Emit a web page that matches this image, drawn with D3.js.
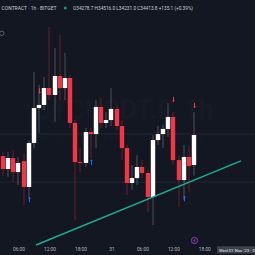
<!DOCTYPE html>
<html>
<head>
<meta charset="utf-8">
<script src="https://cdnjs.cloudflare.com/ajax/libs/d3/7.8.5/d3.min.js"></script>
<style>
  html, body { margin: 0; padding: 0; background: #131722; overflow: hidden; }
  svg { display: block; font-family: Roboto, "Noto Sans", sans-serif; }
</style>
</head>
<body>
<svg id="chart" width="255" height="255"></svg>
<script>
// hourly candles, first one at 30 Oct 2023 03:00
const firstCandle = new Date(2023, 9, 30, 3, 0);
const opens  = [34319, 34261, 34310, 34247, 34296, 34180, 34378, 34535, 34549, 34625, 34594, 34679, 34625, 34670, 34468, 34292, 34288, 34427, 34418, 34540, 34468, 34481, 34531, 34454, 34355, 34198, 34220, 34270, 34243, 34135, 34391, 34418, 34441, 34495, 34301, 34211, 34315, 34278.7];
const highs  = [34337, 34337, 34346, 34315, 34333, 34391, 34697, 34639, 34675, 34900, 34805, 34864, 34783, 34684, 34481, 34355, 34445, 34445, 34571, 34580, 34517, 34625, 34549, 34481, 34369, 34279, 34324, 34301, 34256, 34414, 34454, 34459, 34558, 34517, 34324, 34369, 34364, 34516.0];
const lows   = [34229, 34225, 34202, 34189, 34099, 34130, 34355, 34423, 34526, 34571, 34472, 34571, 34571, 34445, 34031, 34247, 34270, 34310, 34355, 34445, 34445, 34454, 34436, 34301, 34144, 34166, 34189, 34220, 34067, 34009, 34369, 34355, 34405, 34279, 34090, 34121, 34157, 34231.0];
const closes = [34261, 34310, 34247, 34288, 34180, 34378, 34535, 34549, 34625, 34594, 34679, 34625, 34670, 34468, 34292, 34288, 34427, 34418, 34540, 34468, 34481, 34531, 34454, 34355, 34198, 34220, 34270, 34243, 34135, 34391, 34418, 34441, 34495, 34301, 34211, 34315, 34274, 34413.8];

// signal arrows: candle index, price, kind
const markerIndex = [5, 17, 35, 7, 33, 37];
const markerPrice = [34123, 34292, 34128, 34612, 34574, 34547];
const markerKind  = ["buy", "buy", "buy", "sell", "sell", "sell"];

// horizontal levels and trend line
const levels = [34418, 34202];
const trendTimes  = [new Date(2023, 9, 30, 9, 24), new Date(2023, 10, 1, 1, 6)];
const trendPrices = [33919, 34297];

const tickTimes = [new Date(2023, 9, 30, 6), new Date(2023, 9, 30, 12), new Date(2023, 9, 30, 18),
                   new Date(2023, 9, 31, 0), new Date(2023, 9, 31, 6), new Date(2023, 9, 31, 12), new Date(2023, 9, 31, 18)];
const tickLabels = ["06:00", "12:00", "18:00", "31", "06:00", "12:00", "18:00"];

const candles = opens.map((o, i) => ({
  t: d3.timeHour.offset(firstCandle, i),
  o: o, h: highs[i], l: lows[i], c: closes[i]
}));

const svg = d3.select("#chart");
const width = +svg.attr("width");
const height = +svg.attr("height");

const x = d3.scaleTime()
  .domain([candles[0].t, candles[candles.length - 1].t])
  .range([3, 194]);
const y = d3.scaleLinear()
  .domain([34000, 34600])
  .range([227, 93.6]);

svg.append("rect").attr("width", width).attr("height", height).attr("fill", "#131722");

// watermark
svg.append("text")
  .attr("x", 124).attr("y", 119)
  .attr("text-anchor", "middle")
  .attr("font-size", 27).attr("font-weight", 700)
  .attr("fill", "#161a25")
  .text("BTCUSDT.P, 1h");
svg.append("text")
  .attr("x", 124).attr("y", 141)
  .attr("text-anchor", "middle")
  .attr("font-size", 10)
  .attr("fill", "#161a25")
  .text("Bitcoin / USDT PERPETUAL CONTRACT");

// level lines
svg.selectAll(".level")
  .data(levels)
  .enter()
  .append("rect")
  .attr("x", 0).attr("width", width)
  .attr("y", d => Math.round(y(d)) - 0.5).attr("height", 1)
  .attr("fill", "#232733");

// wicks
svg.selectAll(".wick")
  .data(candles)
  .enter()
  .append("rect")
  .attr("x", d => Math.round(x(d.t)) - 0.5)
  .attr("width", 1)
  .attr("y", d => y(d.h))
  .attr("height", d => y(d.l) - y(d.h))
  .attr("fill", d => d.c >= d.o ? "#4e525d" : "#6b1f2b");

// bodies
svg.selectAll(".body")
  .data(candles)
  .enter()
  .append("rect")
  .attr("x", d => Math.round(x(d.t)) - 2.2)
  .attr("width", 4.4)
  .attr("y", d => y(Math.max(d.o, d.c)))
  .attr("height", d => Math.max(1, Math.abs(y(d.o) - y(d.c))))
  .attr("fill", d => d.c >= d.o ? "#ffffff" : "#f23645");

// signal arrows
const markers = markerIndex.map((idx, i) => ({ t: candles[idx].t, p: markerPrice[i], kind: markerKind[i] }));
svg.selectAll(".marker")
  .data(markers)
  .enter()
  .append("path")
  .attr("transform", d => `translate(${Math.round(x(d.t)) + 0.5},${y(d.p)})`)
  .attr("d", d => d.kind === "buy"
    ? "M0,-2.8 L1.5,-1 L0.5,-1 L0.5,2.6 L-0.5,2.6 L-0.5,-1 L-1.5,-1 Z"
    : "M0,2.8 L1.5,1 L0.5,1 L0.5,-2.6 L-0.5,-2.6 L-0.5,1 L-1.5,1 Z")
  .attr("fill", d => d.kind === "buy" ? "#2962ff" : "#f23645");

// trend line
svg.append("line")
  .attr("x1", x(trendTimes[0])).attr("y1", y(trendPrices[0]))
  .attr("x2", x(trendTimes[1])).attr("y2", y(trendPrices[1]))
  .attr("stroke", "#22ab94")
  .attr("stroke-width", 1.4);

// time axis
const xAxis = d3.axisBottom(x)
  .tickValues(tickTimes)
  .tickFormat((d, i) => tickLabels[i])
  .tickSize(0)
  .tickPadding(0);
const xAxisG = svg.append("g")
  .attr("transform", "translate(0,247.5)")
  .call(xAxis);
xAxisG.select(".domain").remove();
xAxisG.selectAll("text")
  .attr("font-family", "Roboto, sans-serif")
  .attr("font-size", 4.8)
  .attr("fill", "#b2b5be");

// event icon
svg.append("circle")
  .attr("cx", 194.5).attr("cy", 240.5).attr("r", 3.2)
  .attr("fill", "#1c1830").attr("stroke", "#9c3fd0").attr("stroke-width", 0.8);
svg.append("path")
  .attr("d", "M195.3,238.6 L193.7,240.8 L195.2,240.8 L193.8,242.6")
  .attr("fill", "none").attr("stroke", "#b866e8").attr("stroke-width", 0.5);

// crosshair time label
svg.append("rect")
  .attr("x", 217).attr("y", 246.2).attr("width", 50).attr("height", 7.4)
  .attr("rx", 1)
  .attr("fill", "#3b3f4a");
svg.append("text")
  .attr("x", 219).attr("y", 251.6)
  .attr("font-size", 4.4)
  .attr("fill", "#e8e9ec")
  .text("Wed 01 Nov '23 · 0");

// header
svg.append("text")
  .attr("x", 1.5).attr("y", 9.6)
  .attr("font-size", 5)
  .attr("textLength", 55).attr("lengthAdjust", "spacingAndGlyphs")
  .attr("fill", "#c8cbd2")
  .text("CONTRACT · 1h · BITGET");
svg.append("circle")
  .attr("cx", 65.3).attr("cy", 8).attr("r", 1.5)
  .attr("fill", "#089981");
const last = candles[candles.length - 1];
const chg = last.c - last.o;
const ohlc = `O${last.o.toFixed(1)} H${last.h.toFixed(1)} L${last.l.toFixed(1)} C${last.c.toFixed(1)} +${chg.toFixed(1)} (+${(chg / last.o * 100).toFixed(2)}%)`;
svg.append("text")
  .attr("x", 73).attr("y", 9.6)
  .attr("font-size", 4.6)
  .attr("textLength", 120).attr("lengthAdjust", "spacingAndGlyphs")
  .attr("fill", "#c8cbd2")
  .text(ohlc);

// collapse button
svg.append("circle")
  .attr("cx", 1.8).attr("cy", 33.3).attr("r", 2.2)
  .attr("fill", "none").attr("stroke", "#6a6e79").attr("stroke-width", 0.8);
</script>
</body>
</html>
